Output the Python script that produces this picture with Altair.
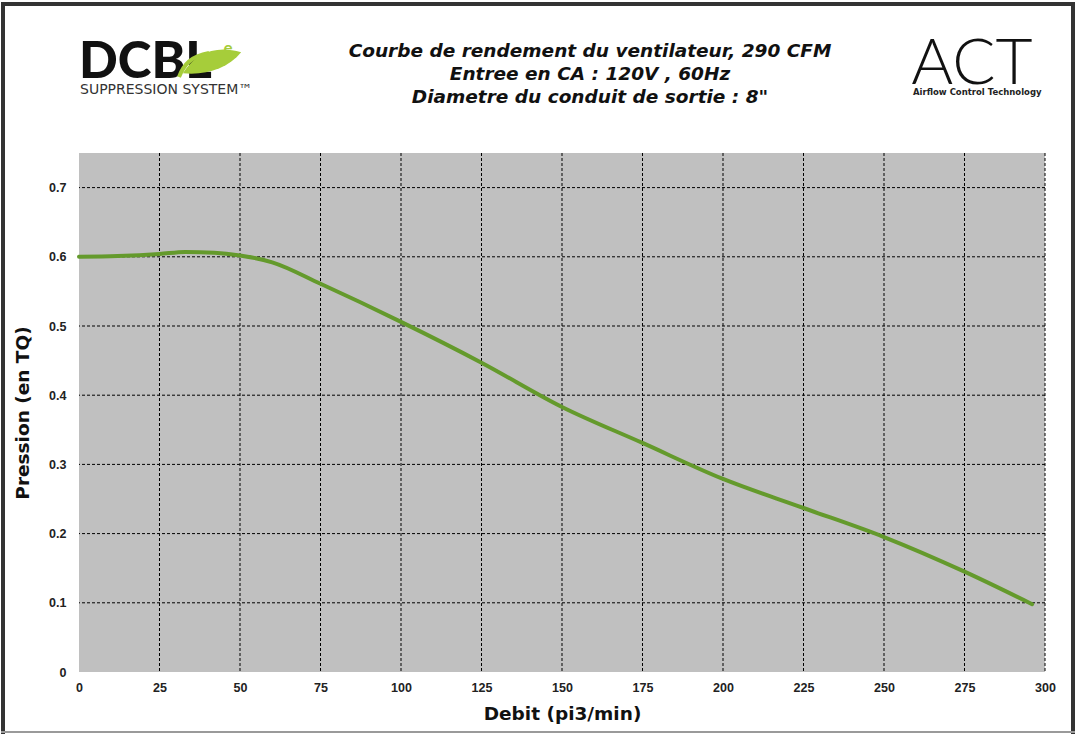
import altair as alt
import pandas as pd

# Fan performance curve: airflow (CFM) vs static pressure (in. w.c.)
debit = [0, 12, 25, 33, 42, 50, 60, 75, 100, 125, 150, 175, 200, 225, 250, 275, 296]
pression = [0.600, 0.601, 0.604, 0.607, 0.606, 0.602, 0.592, 0.561, 0.506, 0.447,
            0.383, 0.331, 0.279, 0.237, 0.195, 0.145, 0.098]

x_grid = [25, 50, 75, 100, 125, 150, 175, 200, 225, 250, 275, 300]
y_grid = [0.1, 0.2, 0.3, 0.4, 0.5, 0.6, 0.7]
x_ticks = [0, 25, 50, 75, 100, 125, 150, 175, 200, 225, 250, 275, 300]
y_ticks = [0, 0.1, 0.2, 0.3, 0.4, 0.5, 0.6, 0.7]

title_lines = [
    "Courbe de rendement du ventilateur, 290 CFM",
    "Entree en CA : 120V , 60Hz",
    "Diametre du conduit de sortie : 8\"",
]

W, H = 966, 519
PAD_L, PAD_T = 79, 153

curve_df = pd.DataFrame({"debit": debit, "pression": pression})

x_scale = alt.Scale(domain=[0, 300], nice=False, zero=False)
y_scale = alt.Scale(domain=[0, 0.75], nice=False)

x_axis = alt.Axis(
    title="Debit (pi3/min)", values=x_ticks, grid=False, domain=False, ticks=False,
    labelFont="Liberation Sans", labelFontWeight="bold", labelFontSize=12.5,
    labelColor="#222", labelPadding=9, labelFlush=False,
    titleFont="DejaVu Sans", titleFontWeight="bold", titleFontSize=18.5,
    titleColor="#111", titlePadding=11,
)
y_axis = alt.Axis(
    title="Pression (en TQ)", values=y_ticks, format="~g", grid=False, domain=False,
    ticks=False, labelFont="Liberation Sans", labelFontWeight="bold", labelFontSize=12.5,
    labelColor="#222", labelPadding=13, labelFlush=False,
    titleFont="DejaVu Sans", titleFontWeight="bold", titleFontSize=18.5,
    titleColor="#111", titlePadding=16,
)

curve = alt.Chart(curve_df).mark_line(
    color="#649a2c", strokeWidth=4, interpolate="monotone", strokeCap="round"
).encode(
    x=alt.X("debit:Q", scale=x_scale, axis=x_axis),
    y=alt.Y("pression:Q", scale=y_scale, axis=y_axis),
)

vgrid = alt.Chart(pd.DataFrame({"debit": x_grid})).mark_rule(
    color="#000", strokeWidth=1, strokeDash=[3, 2]
).encode(x=alt.X("debit:Q", scale=x_scale, axis=x_axis))

hgrid = alt.Chart(pd.DataFrame({"pression": y_grid})).mark_rule(
    color="#000", strokeWidth=1, strokeDash=[3, 2]
).encode(y=alt.Y("pression:Q", scale=y_scale, axis=y_axis))

one = pd.DataFrame({"k": [0]})


def label(text, x, y, **kw):
    return alt.Chart(one).mark_text(**kw).encode(
        x=alt.value(x - PAD_L), y=alt.value(y - PAD_T), text=alt.value(text)
    )


def box(x1, x2, y1, y2, color):
    return alt.Chart(one).mark_rect(color=color).encode(
        x=alt.value(x1 - PAD_L), x2=alt.value(x2 - PAD_L),
        y=alt.value(y1 - PAD_T), y2=alt.value(y2 - PAD_T),
    )


# Heading, three centred lines
heading = [
    label(line, 590, 57 + 23 * i, font="DejaVu Sans", fontWeight="bold",
          fontStyle="italic", fontSize=18.5, align="center",
          baseline="alphabetic", color="#111")
    for i, line in enumerate(title_lines)
]

# DCBL logo
dcbl = label("DCBL", 79, 78, font="Lato", fontWeight=900, fontSize=51,
             align="left", baseline="alphabetic", color="#111")
leaf = alt.Chart(one).mark_point(
    shape="M-1,0.42 C-0.55,-0.3 0.15,-0.55 1,-0.3 C0.55,0.25 -0.2,0.5 -1,0.42 Z",
    filled=True, color="#a6cd3a", opacity=1, size=3400,
).encode(x=alt.value(212 - PAD_L), y=alt.value(61 - PAD_T))
stem = alt.Chart(one).mark_point(
    shape="M-1,1 C-0.7,0.2 -0.2,-0.4 1,-0.6",
    filled=False, color="#a6cd3a", opacity=1, size=900, strokeWidth=4,
).encode(x=alt.value(194 - PAD_L), y=alt.value(62 - PAD_T))
e_mark = label("e", 228, 54, font="Lato", fontWeight=700, fontSize=17,
               align="center", baseline="alphabetic", color="#a6cd3a")
suppression = label("SUPPRESSION SYSTEM\u2122", 80, 94, font="DejaVu Sans",
                    fontSize=14, align="left", baseline="alphabetic", color="#333")

# ACT logo
act = label("ACT", 972, 84, font="Lato", fontWeight=300, fontSize=64,
            align="center", baseline="alphabetic", color="#111")
act_sub = label("Airflow  Control  Technology", 913, 95, font="DejaVu Sans",
                fontWeight="bold", fontSize=8.5, align="left",
                baseline="alphabetic", color="#222")

# Page frame
frame = [
    box(1, 5, 2, 734, "#333"),
    box(1, 1075, 2, 6, "#333"),
    box(1071, 1075, 2, 734, "#333"),
    box(1, 1075, 731, 733, "#9a9a9a"),
]

chart = alt.layer(
    vgrid, hgrid, curve, *heading, dcbl, stem, leaf, e_mark, suppression,
    act, act_sub, *frame
).properties(
    width=W,
    height=H,
    padding={"left": PAD_L, "top": PAD_T, "right": 1076 - PAD_L - W,
             "bottom": 734 - PAD_T - H},
    autosize=alt.AutoSizeParams(type="none"),
    background="white",
).configure_view(fill="#c0c0c0", stroke=None)

chart.save("out.html", embed_options={"renderer": "svg", "actions": False})
